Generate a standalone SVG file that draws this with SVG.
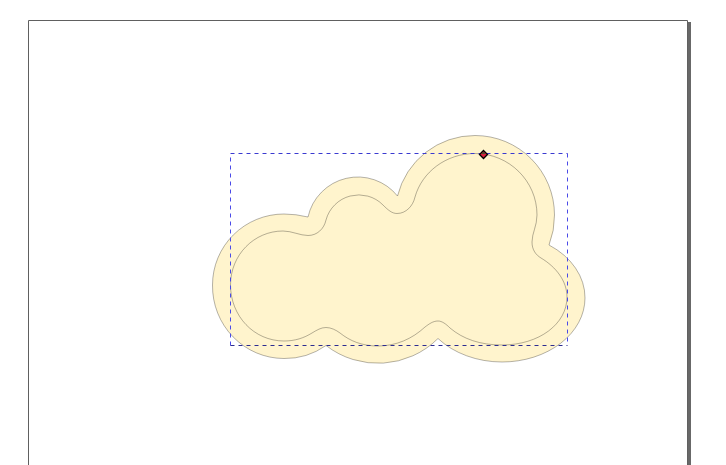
<svg xmlns="http://www.w3.org/2000/svg" width="726" height="465" viewBox="0 0 726 465">
<style>
.shape{fill:#fff4cd;stroke:#000;stroke-width:.3}
.sel{fill:none;stroke-width:1;stroke-dasharray:4 4}
</style>
<rect width="726" height="465" fill="#fff"/>
<rect x="687" y="22" width="4" height="443" fill="#686868"/>
<path d="M28.500 465V20.500H687.500V465" fill="none" stroke="#606060" stroke-width="1"/>
<path class="shape" d="M308 217A51 51 0 0 1 397.500 196A79.500 79.500 0 0 1 475 135.500A79.500 79.500 0 0 1 554.500 215A79.500 79.500 0 0 1 549 245A83 64 0 0 1 585 298A83 64 0 0 1 502 362A83 64 0 0 1 438 338.500A85 85 0 0 1 326 345.500A71.500 72.500 0 0 1 284 358.500A71.500 72.500 0 0 1 212.500 285A71.500 71 0 0 1 284 214Q296 214 308 217Z"/>
<path class="shape" d="M326 220A34 34 0 0 1 383 205C388 210 392 213.500 397 213.500C406 213.500 413 206 415 197C422 172 446 153.500 475 153.500C509 153.500 537 181 537 215C537 226 532 233 532 242C532 250 536 255 541 258C556 267 567 281 567 297C567 324 539 345 502 345C480 345 463 339 450 328C446 324 442 321 438 321C433 321 429 324 425 327C412 339 396 346 378 346C362 346 350 341 340 333C336 330 331 327.500 326 327.500C321 327.500 317 330 312 333C304 338 295 341 284 341C254 341 230.500 316 230.500 285C230.500 255 254 231 283 231C292 231 300 235.500 308 235.500C317 235.500 324 229 326 220Z"/>
<path class="sel" d="M230.500 345.500V153.500" stroke="#4a4ae8"/>
<path class="sel" d="M567.500 153.500V345.500" stroke="#4a4ae8"/>
<path class="sel" d="M230.500 153.500H567.500" stroke="#3a3ad0"/>
<path class="sel" d="M230.500 345.500H567.500" stroke="#2c2c90"/>
<path d="M483.500 150.500L487.500 154.500L483.500 158.500L479.500 154.500Z" fill="#d8203c" stroke="#000" stroke-width="1.300"/>
<path d="M481.500 154L483.500 152L485.500 154Z" fill="#3a5a30"/>
</svg>
